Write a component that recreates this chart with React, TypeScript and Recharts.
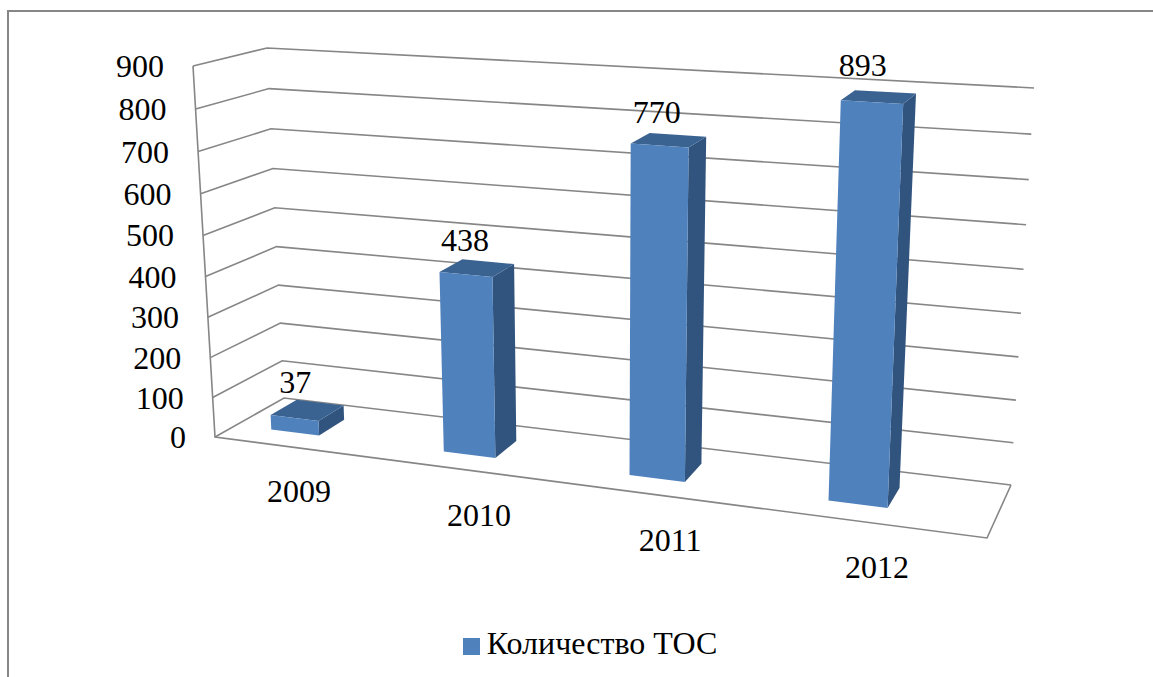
import React from 'react';
import { BarChart, Bar, XAxis, YAxis, CartesianGrid, Legend, LabelList } from 'recharts';

const categories = ['2009', '2010', '2011', '2012'];
const values = [37, 438, 770, 893];
const yTicks = [0, 100, 200, 300, 400, 500, 600, 700, 800, 900];
const seriesName = 'Количество ТОС';
const rows = categories.map((year, i) => ({ year, count: values[i] }));

const W = 1153, H = 677;
const PL = 215, PT = 66, PW = 772, PH = 371;
const FONT = '"Liberation Serif", serif';
const GRID = '#868686';

type Pt = [number, number];
// corners of the drawn box: F=front, B=back, L/R, 0=floor, 9=top
const FL0: Pt = [215, 437], FL9: Pt = [193, 66], FR0: Pt = [987, 538], FR9: Pt = [1008, 116];
const BL0: Pt = [284, 398], BL9: Pt = [267, 48], BR0: Pt = [1011, 485], BR9: Pt = [1034, 88];

const lerp = (a: Pt, b: Pt, t: number): Pt => [a[0] + (b[0] - a[0]) * t, a[1] + (b[1] - a[1]) * t];
const warpV = (v: number) => v / (1 + 0.05 * (1 - v));
const warpU = (u: number) => -0.031 + 0.85 * u + 0.14 * u * u;
const P = (u: number, v: number, w: number): Pt => {
  const s = warpV(v);
  const f = lerp(lerp(FL0, FR0, u), lerp(FL9, FR9, u), s);
  const b = lerp(lerp(BL0, BR0, u), lerp(BL9, BR9, u), s);
  return lerp(f, b, w);
};
const pts = (list: Pt[]) => list.map((p) => `${p[0].toFixed(1)},${p[1].toFixed(1)}`).join(' ');
const W0 = 0.31, W1 = 0.7;
const toU = (x: number) => (x - PL) / PW;
const toV = (y: number) => (PT + PH - y) / PH;

function BarShape(props: any) {
  const { x, y, width } = props;
  const u0 = warpU(toU(x)), u1 = warpU(toU(x + width)), v = toV(y);
  const a = P(u0, 0, W0), b = P(u1, 0, W0), c = P(u1, v, W0), d = P(u0, v, W0);
  const e = P(u1, 0, W1), g = P(u1, v, W1), h = P(u0, v, W1);
  return (
    <g>
      <polygon points={pts([b, e, g, c])} fill="#31547e" />
      <polygon points={pts([d, c, g, h])} fill="#3b6392" />
      <polygon points={pts([a, b, c, d])} fill="#4f81bd" />
    </g>
  );
}

function GridLine(props: any) {
  const v = Math.round(toV(props.y1) * 900) / 900;
  const a = P(0, v, 0), b = P(0, v, 1), c = P(1, v, 1);
  return (
    <g>
      <polyline points={pts([a, b, c])} fill="none" stroke={GRID} strokeWidth={1.6} />
      {v === 0 && (
        <polyline points={pts([P(0, 1, 0), a, P(1, 0, 0), c])} fill="none" stroke={GRID} strokeWidth={1.6} />
      )}
    </g>
  );
}

function YTick(props: any) {
  const p = P(0, toV(props.y), 0);
  return (
    <text x={p[0] - 29} y={p[1] + 11} textAnchor="end" fontFamily={FONT} fontSize={32} fill="#000">
      {props.payload.value}
    </text>
  );
}

function XTick(props: any) {
  const u = toU(props.x);
  const nudge = props.index >= 2 ? 0.003 : 0;
  const p = P(warpU(u) + 0.03 + 0.012 * u - nudge, 0, 0);
  return (
    <text x={p[0]} y={p[1] + 54} textAnchor="middle" fontFamily={FONT} fontSize={32} fill="#000">
      {props.payload.value}
    </text>
  );
}

function TopLabel(props: any) {
  const { x, y, width, value, index } = props;
  const cu = warpU(toU(x + width / 2));
  const p = P(cu, toV(y), (W0 + W1) / 2);
  const last = index === values.length - 1;
  return (
    <text x={p[0] - (last ? 16 : 12)} y={p[1] - (last ? 21 : 17)} textAnchor="middle" fontFamily={FONT} fontSize={32} fill="#000">
      {value}
    </text>
  );
}

export default function App() {
  return (
    <div style={{ position: 'absolute', left: 0, top: 0, width: W, height: H, background: '#fff', overflow: 'hidden' }}>
      <div
        style={{
          position: 'absolute', left: 7, top: 10, right: 0, bottom: 0,
          borderTop: `2px solid ${GRID}`, borderLeft: `2px solid ${GRID}`,
        }}
      />
      <BarChart
        width={W}
        height={H}
        data={rows}
        barSize={55}
        margin={{ left: PL - 60, top: PT, right: W - PL - PW, bottom: H - PT - PH - 30 }}
        style={{ position: 'absolute', left: 0, top: 0 }}
      >
        <CartesianGrid vertical={false} horizontal={(p: any) => <GridLine key={p.key} {...p} />} />
        <XAxis dataKey="year" axisLine={false} tickLine={false} tick={<XTick />} interval={0} />
        <YAxis domain={[0, 900]} ticks={yTicks} axisLine={false} tickLine={false} tick={<YTick />} interval={0} />
        <Bar dataKey="count" name={seriesName} fill="#4f81bd" isAnimationActive={false} shape={<BarShape />}>
          <LabelList dataKey="count" content={<TopLabel />} />
        </Bar>
        <Legend
          layout="horizontal"
          align="center"
          verticalAlign="middle"
          iconType="square"
          iconSize={17}
          wrapperStyle={{ position: 'absolute', left: 445, top: 625, width: 300, height: 40, fontFamily: FONT, fontSize: 32 }}
          formatter={(v: string) => <span style={{ color: '#000', marginLeft: 3 }}>{v}</span>}
        />
      </BarChart>
    </div>
  );
}
